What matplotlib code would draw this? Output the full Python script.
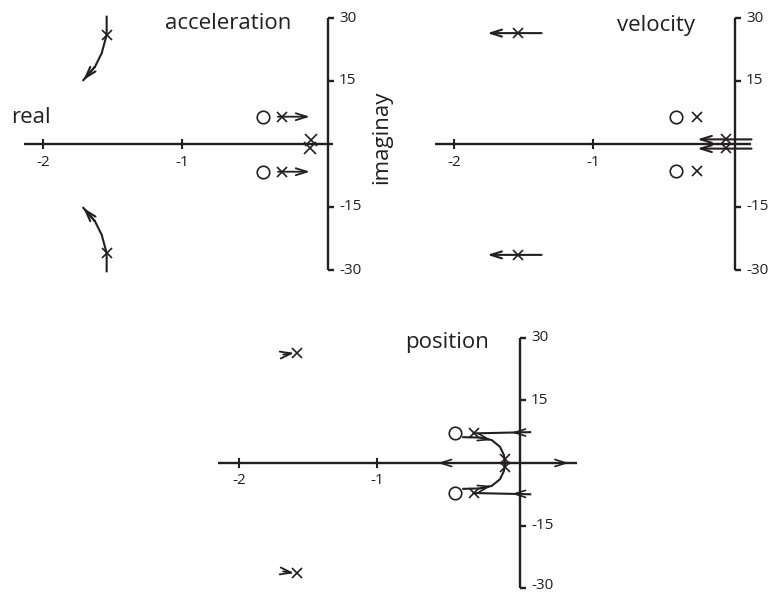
import numpy as np
import matplotlib
matplotlib.use("Agg")
import matplotlib.pyplot as plt

plt.rcParams["font.family"] = ["Open Sans", "DejaVu Sans"]
ink = "#231f20"

# ---- data (real part, imaginary part) ----
# acceleration
acc_zeros = [(-0.42, 6.5), (-0.42, -6.6)]
acc_poles = [(-1.54, 26.0), (-1.54, -26.0), (-0.28, 6.5), (-0.28, -6.6),
             (-0.07, 0.9), (-0.08, -0.9)]
acc_upper_x = [-1.542, -1.542, -1.578, -1.626, -1.71]
acc_upper_y = [30.3, 26.0, 21.6, 18.4, 15.2]
acc_lower_x = [-1.542, -1.542, -1.578, -1.626, -1.71]
acc_lower_y = [-30.3, -26.0, -21.6, -18.4, -15.2]
acc_arrows = [((-0.31, 6.5), (-0.08, 6.5)), ((-0.31, -6.6), (-0.08, -6.6))]

# velocity
vel_zeros = [(-0.40, 6.4), (-0.40, -6.4)]
vel_poles = [(-1.54, 26.4), (-1.54, -26.4), (-0.25, 6.4), (-0.25, -6.4),
             (-0.04, 1.2), (-0.04, -0.9)]
vel_arrows = [((-1.37, 26.4), (-1.76, 26.4)), ((-1.37, -26.4), (-1.76, -26.4)),
              ((0.14, 1.1), (-0.25, 1.1)), ((0.14, -1.1), (-0.25, -1.1))]

# position
pos_zeros = [(-0.435, 7.1), (-0.435, -7.2)]
pos_poles = [(-1.58, 26.4), (-1.58, -26.4), (-0.30, 7.1), (-0.30, -7.3),
             (-0.07, 1.0), (-0.07, -1.0)]
pos_arrows = [((-1.68, 26.0), (-1.60, 26.4)), ((-1.68, -26.0), (-1.60, -26.4))]
pos_hlines = [((0.11, 7.4), (-0.30, 7.1), -0.024), ((0.11, -7.5), (-0.30, -7.2), -0.024)]
pos_curve_x = [-0.375, -0.254, -0.169, -0.109, -0.08, -0.072]
pos_curve_y = [6.2, 6.1, 5.5, 3.9, 1.9, 0.0]
pos_axis_arrows = [(-0.50, -0.56), (0.33, 0.39)]

real_ticks = [-2, -1]
imag_ticks = [30, 15, -15, -30]
imag_labels = ["30", "15", "-15", "-30"]

W, H = 776, 594
fig = plt.figure(figsize=(W / 100, H / 100), dpi=100)


def make_ax(px0, py0, pw, ph, ox, oy, sx, sy):
    # pixel box of the axes, pixel of the origin, pixels per unit
    ax = fig.add_axes([px0 / W, 1 - (py0 + ph) / H, pw / W, ph / H])
    ax.set_xlim((px0 - ox) / sx, (px0 + pw - ox) / sx)
    ax.set_ylim((oy - py0 - ph) / sy, (oy - py0) / sy)
    ax.axis("off")
    return ax


def arrow(ax, a, b, lw=1.2):
    ax.annotate("", xy=b, xytext=a,
                arrowprops=dict(arrowstyle="->,head_length=0.8,head_width=0.25",
                                lw=lw, color=ink, shrinkA=0, shrinkB=0))


def frame(ax, xmin, xmax, yaxis_x, low_lab=-30):
    ax.plot([xmin, xmax], [0, 0], color=ink, lw=1.7, solid_capstyle="butt")
    ax.plot([yaxis_x, yaxis_x], [-30, 30], color=ink, lw=1.7, solid_capstyle="butt")
    for t in real_ticks:
        ax.plot([t, t], [-1.0, 1.0], color=ink, lw=1.5)
        ax.text(t, -4.3, str(t), ha="center", va="center", fontsize=11, color=ink)
    for t, lab in zip(imag_ticks, imag_labels):
        ax.plot([yaxis_x, yaxis_x + 0.045], [t, t], color=ink, lw=1.7,
                solid_capstyle="butt")
        ty = low_lab if t == -30 else t
        ax.text(yaxis_x + 0.08, ty, lab, ha="left", va="center", fontsize=11, color=ink)


def marks(ax, zeros, poles, xs=7, cs=9):
    for z in zeros:
        ax.plot(*z, "o", ms=cs, mfc="white", mec=ink, mew=1.2, zorder=5)
    for p in poles:
        ax.plot(*p, "x", ms=xs, mec=ink, mew=1.2, zorder=5)


# acceleration
ax1 = make_ax(0, 0, 400, 290, 321, 144, 139, 4.2)
frame(ax1, -2.14, 0.086, 0.05)
ax1.plot(acc_upper_x, acc_upper_y, color=ink, lw=1.5)
ax1.plot(acc_lower_x, acc_lower_y, color=ink, lw=1.5)
arrow(ax1, (acc_upper_x[-2], acc_upper_y[-2]), (acc_upper_x[-1], acc_upper_y[-1]), lw=1.5)
arrow(ax1, (acc_lower_x[-2], acc_lower_y[-2]), (acc_lower_x[-1], acc_lower_y[-1]), lw=1.5)
for a, b in acc_arrows:
    arrow(ax1, a, b, lw=1.3)
marks(ax1, acc_zeros, acc_poles[:4])
marks(ax1, [], acc_poles[4:], xs=9)
ax1.text(-0.67, 28.8, "acceleration", ha="center", va="center", fontsize=16, color=ink)
ax1.text(-2.23, 6.4, "real", ha="left", va="center", fontsize=16, color=ink)
ax1.text(0.44, 1.7, "imaginay", ha="center", va="center", rotation=90,
         fontsize=16, color=ink)

# velocity
ax2 = make_ax(400, 0, 376, 290, 732, 144, 139, 4.2)
frame(ax2, -2.14, 0.14, 0.02)
for a, b in vel_arrows:
    arrow(ax2, a, b, lw=1.5)
marks(ax2, vel_zeros, vel_poles)
ax2.text(-0.55, 28.3, "velocity", ha="center", va="center", fontsize=16, color=ink)

# position
ax3 = make_ax(200, 290, 400, 304, 515, 463, 138, 4.17)
frame(ax3, -2.15, 0.45, 0.036, low_lab=-29.3)
for a, b in pos_arrows:
    arrow(ax3, a, b, lw=1.3)
for a, b, xm in pos_hlines:
    ax3.plot([a[0], b[0]], [a[1], b[1]], color=ink, lw=1.5)
    ym = a[1] + (b[1] - a[1]) * (xm - a[0]) / (b[0] - a[0])
    arrow(ax3, (xm + 0.05, ym), (xm, ym), lw=1.2)
ax3.plot(pos_curve_x, pos_curve_y, color=ink, lw=1.5)
ax3.plot(pos_curve_x, [-v for v in pos_curve_y], color=ink, lw=1.5)
arrow(ax3, (pos_curve_x[1], pos_curve_y[1]), (-0.17, 5.5), lw=1.2)
arrow(ax3, (pos_curve_x[1], -pos_curve_y[1]), (-0.17, -5.5), lw=1.2)
for a, b in pos_axis_arrows:
    arrow(ax3, (a, 0), (b, 0), lw=1.2)
marks(ax3, pos_zeros, pos_poles)
ax3.text(-0.49, 28.8, "position", ha="center", va="center", fontsize=16, color=ink)

fig.savefig("out.png", dpi=100)
